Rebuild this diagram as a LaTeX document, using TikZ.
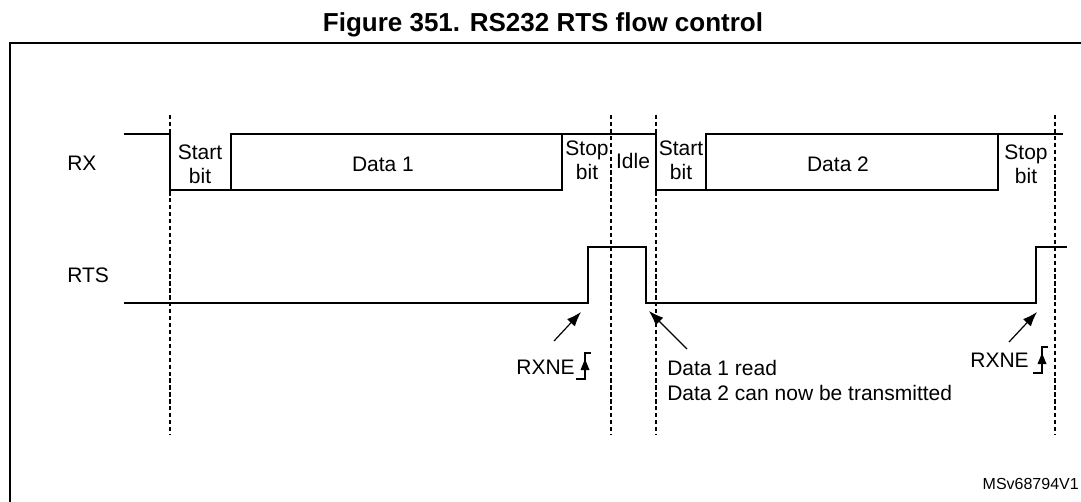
\documentclass[tikz,border=0pt]{standalone}
\usepackage{fontspec}
\setmainfont{Liberation Sans}
\usetikzlibrary{arrows.meta,positioning}

\tikzset{
  sig/.style={line width=1.1pt, line join=miter},
  guide/.style={line width=0.9pt, dash pattern=on 3.2pt off 2pt},
  lbl/.style={font=\fontsize{15.75}{18}\selectfont, inner sep=0pt, align=center},
  ptr/.style={line width=0.9pt, -{Latex[length=11pt,width=8pt]}},
}
% rising edge mark next to RXNE
\newcommand{\edgemark}[1]{%
  \draw[line width=0.9pt, shift={(#1)}] (-9,13) -- (0,13) -- (0,-13) -- (6,-13);
  \fill[shift={(#1)}] (0,-7) -- (-4.5,4) -- (4.5,4) -- cycle;
}

\begin{document}
\begin{tikzpicture}[x=0.75pt, y=-0.75pt]
    \useasboundingbox (0,0) rectangle (1081,502);
    \fill[white] (0,0) rectangle (1081,502);
    \node[font=\bfseries\fontsize{19.5}{23}\selectfont, inner sep=0pt] (title) at (543,25) {Figure 351. RS232 RTS flow control};
    \draw[line width=1.6pt] (10,530) -- (10,43) -- (1110,43);

    % guide lines
    \foreach \x/\n in {170/a, 611/b, 656/c, 1055/d} {
        \coordinate (top\n) at (\x,115);
        \coordinate (bot\n) at (\x,435);
        \draw[guide] (top\n) -- (bot\n);
    }

    % RX
    \node[lbl, anchor=west] (rx) at (67,163) {RX};
    \draw[sig] (124,134) -- (170,134) -- (170,190) -- (562,190) -- (562,134);
    \draw[sig] (231,190) -- (231,134) -- (656,134) -- (656,190) -- (998,190) -- (998,134);
    \draw[sig] (706,190) -- (706,134) -- (1063,134);
    \node[lbl] (start1) at (200,164) {Start\\bit};
    \node[lbl] (data1) at (383,164) {Data 1};
    \node[lbl] (stop1) at (587,160) {Stop\\bit};
    \node[lbl] (idle) at (633,161) {Idle};
    \node[lbl] (start2) at (681,160) {Start\\bit};
    \node[lbl] (data2) at (838,164) {Data 2};
    \node[lbl] (stop2) at (1026,164) {Stop\\bit};

    % RTS
    \node[lbl, anchor=west] (rts) at (67,275) {RTS};
    \draw[sig] (124,303) -- (588,303) -- (588,247) -- (646,247) -- (646,303) -- (1036,303) -- (1036,247) -- (1067,247);

    % events
    \coordinate (tip1) at (581,312);
    \coordinate (tail1) at (554,341);
    \coordinate (tip2) at (649,311);
    \coordinate (tail2) at (687,349);
    \coordinate (tip3) at (1037,312);
    \coordinate (tail3) at (1009,342);
    \draw[ptr] (tail1) -- (tip1);
    \draw[ptr] (tail2) -- (tip2);
    \draw[ptr] (tail3) -- (tip3);

    \node[lbl, anchor=east] (rxne1) at (575,367) {RXNE};
    \coordinate (edge1) at (585,366);
    \edgemark{edge1}
    \node[lbl, anchor=east] (rxne2) at (1029,360) {RXNE};
    \coordinate (edge2) at (1042,360);
    \edgemark{edge2}
    \node[lbl, anchor=west, align=left, font=\fontsize{15.75}{18.75}\selectfont] (read) at (667,380) {Data 1 read\\Data 2 can now be transmitted};

    \node[anchor=east, inner sep=0pt, font=\fontsize{12}{14}\selectfont] (ref) at (1079,484) {MSv68794V1};
\end{tikzpicture}
\end{document}
